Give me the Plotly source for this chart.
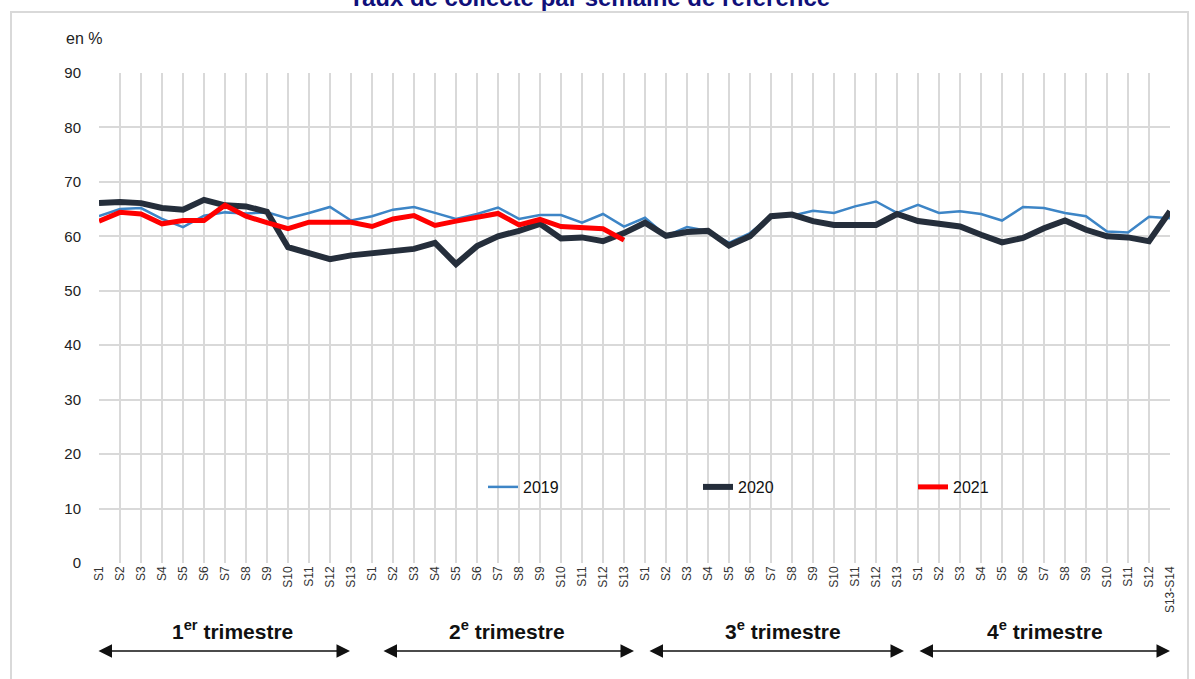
import plotly.graph_objects as go

weeks = [f"S{i}" for i in range(1, 14)] * 3 + [f"S{i}" for i in range(1, 13)] + ["S13-S14"]

v2019 = [63.7, 65.0, 65.2, 63.2, 61.7, 63.8, 64.4, 64.2, 64.4, 63.3, 64.3, 65.4, 62.9,
         63.7, 64.9, 65.4, 64.3, 63.2, 64.1, 65.3, 63.2, 63.9, 63.9, 62.5, 64.1, 61.8,
         63.4, 60.1, 61.7, 61.0, 58.8, 60.6, 63.7, 63.8, 64.7, 64.3, 65.5, 66.4, 64.3,
         65.8, 64.3, 64.6, 64.1, 62.9, 65.4, 65.2, 64.3, 63.7, 60.9, 60.7, 63.6, 63.3]
v2020 = [66.1, 66.3, 66.1, 65.2, 64.9, 66.7, 65.7, 65.5, 64.5, 58.0, 56.9, 55.8, 56.5,
         56.9, 57.3, 57.7, 58.8, 54.9, 58.2, 60.0, 61.0, 62.3, 59.6, 59.8, 59.1, 60.6,
         62.5, 60.1, 60.8, 61.0, 58.3, 60.0, 63.7, 64.0, 62.8, 62.1, 62.1, 62.1, 64.1,
         62.8, 62.3, 61.8, 60.3, 58.9, 59.7, 61.5, 62.9, 61.2, 60.0, 59.8, 59.1, 64.6]
v2021 = [62.8, 64.4, 64.1, 62.3, 62.9, 62.9, 65.7, 63.7, 62.5, 61.4, 62.6, 62.6, 62.6,
         61.8, 63.2, 63.8, 62.0, 62.8, 63.4, 64.2, 62.1, 63.1, 61.8, 61.7, 61.4, 59.3]

quarters = ["<b>1<sup>er</sup> trimestre</b>", "<b>2<sup>e</sup> trimestre</b>",
            "<b>3<sup>e</sup> trimestre</b>", "<b>4<sup>e</sup> trimestre</b>"]

# layout geometry (pixels)
W, H = 1195, 679
L, R, T, B = 99, 25, 73, 116
pw = W - L - R
ph = H - T - B

def px2x(p):
    return (p - L) / pw

def px2y(p):
    return (H - B - p) / ph

xs = list(range(len(weeks)))

fig = go.Figure()
fig.add_trace(go.Scatter(x=xs, y=v2019, mode="lines", name="2019",
                         line=dict(color="#3D85C6", width=2.5)))
fig.add_trace(go.Scatter(x=xs, y=v2020, mode="lines", name="2020",
                         line=dict(color="#252E3B", width=6)))
fig.add_trace(go.Scatter(x=xs[:len(v2021)], y=v2021, mode="lines", name="2021",
                         line=dict(color="#FF0000", width=5)))

annotations = []
# title (partially cut at top as in reference)
annotations.append(dict(text="<b>Taux de collecte par semaine de référence</b>",
                        xref="paper", yref="paper", x=px2x(589), y=px2y(-2),
                        xanchor="center", yanchor="middle", showarrow=False,
                        font=dict(family="Liberation Sans, Arial", size=24, color="#10107A")))
annotations.append(dict(text="en %", xref="paper", yref="paper", x=px2x(64), y=px2y(38),
                        xanchor="left", yanchor="middle", showarrow=False,
                        font=dict(family="Liberation Sans, Arial", size=16, color="#222222")))

q_centers = [232, 507, 783, 1045]
q_arrows = [(97, 350), (382, 634), (648, 904), (918, 1170)]
for q, c, (a0, a1) in zip(quarters, q_centers, q_arrows):
    annotations.append(dict(text=q, xref="paper", yref="paper", x=px2x(c), y=px2y(630),
                            xanchor="center", yanchor="middle", showarrow=False,
                            font=dict(family="Liberation Sans, Arial", size=21, color="#111111")))
    annotations.append(dict(text="", xref="paper", yref="paper", axref="pixel", ayref="pixel",
                            x=px2x(a1), y=px2y(651), ax=-(a1 - a0), ay=0,
                            showarrow=True, arrowside="end+start", arrowhead=2,
                            arrowsize=1.8, arrowwidth=1.5, arrowcolor="#111111"))

shapes = [dict(type="rect", xref="paper", yref="paper",
               x0=px2x(11), x1=px2x(1188), y0=px2y(720), y1=px2y(12),
               line=dict(color="#D9D9D9", width=2), layer="below")]

fig.update_layout(
    width=W, height=H,
    margin=dict(l=L, r=R, t=T, b=B),
    paper_bgcolor="white", plot_bgcolor="white",
    font=dict(family="Liberation Sans, Arial", color="#222222"),
    showlegend=True,
    legend=dict(orientation="h", x=px2x(483), y=px2y(487), xanchor="left", yanchor="middle",
                entrywidth=170, entrywidthmode="pixels", bgcolor="rgba(0,0,0,0)",
                font=dict(size=16, color="#111111")),
    annotations=annotations,
    shapes=shapes,
)
fig.update_xaxes(range=[0, len(weeks) - 1], tickmode="array", tickvals=xs, ticktext=weeks,
                 tickangle=-90, tickfont=dict(size=12, color="#333333"),
                 showgrid=True, gridcolor="#D9D9D9", gridwidth=1.5, zeroline=False,
                 showline=False, ticks="")
fig.update_yaxes(range=[0, 90], tickmode="array", tickvals=list(range(0, 100, 10)),
                 tickfont=dict(size=15, color="#222222"), ticklabelstandoff=17,
                 showgrid=True, gridcolor="#D9D9D9", gridwidth=1.5, zeroline=False,
                 showline=False, ticks="")

fig.write_html("out.html", config={"displayModeBar": False},
               post_script="document.body.style.margin='0px';document.body.style.overflow='hidden';")
